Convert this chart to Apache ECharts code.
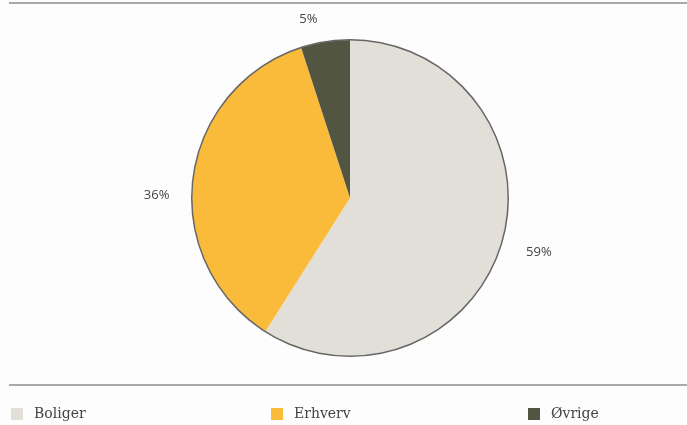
<!DOCTYPE html>
<html>
<head>
<meta charset="utf-8">
<script src="https://cdn.jsdelivr.net/npm/echarts@6/dist/echarts.min.js"></script>
<style>
  html, body { margin: 0; padding: 0; background: #fdfdfd; }
  #chart { width: 687px; height: 425px; }
</style>
</head>
<body>
<div id="chart"></div>
<script>
// Andel fordelt på kategori (prosent)
const categories = ['Boliger', 'Erhverv', 'Øvrige'];
const shares = [59, 36, 5];
const colors = ['#e2dfd8', '#fbbb3a', '#535543'];

// small nudges of the percentage labels
const labelShift = [[-4, 5], [5, 19], [6, -5]];

const chart = echarts.init(document.getElementById('chart'));

const pieData = categories.map((name, i) => ({
  name: name,
  value: shares[i],
  itemStyle: { color: colors[i] }
}));

const legendLeft = [6, 266, 523];

chart.setOption({
  backgroundColor: '#fdfdfd',
  animation: false,
  legend: categories.map((name, i) => ({
    data: [name],
    left: legendLeft[i],
    top: 402,
    icon: 'rect',
    itemWidth: 12,
    itemHeight: 12,
    itemGap: 8,
    textStyle: {
      fontFamily: 'DejaVu Serif, serif',
      fontSize: 14,
      color: '#444',
      padding: [0, 0, 0, 6]
    }
  })),
  graphic: [
    { type: 'line', shape: { x1: 9, y1: 3, x2: 687, y2: 3 }, style: { stroke: '#a9a9a9', lineWidth: 2 } },
    { type: 'line', shape: { x1: 9, y1: 385, x2: 687, y2: 385 }, style: { stroke: '#a9a9a9', lineWidth: 2 } }
  ],
  series: [
    {
      type: 'pie',
      center: [350, 198],
      radius: [0, 158],
      startAngle: 90,
      clockwise: true,
      data: pieData,
      label: {
        show: true,
        position: 'outside',
        formatter: '{c}%',
        fontFamily: 'Open Sans, sans-serif',
        fontSize: 13,
        color: '#444'
      },
      labelLine: { show: false, length: 18, length2: 6 },
      labelLayout: function (p) {
        const s = labelShift[p.dataIndex];
        return { dx: s[0], dy: s[1] };
      },
      emphasis: { disabled: true }
    },
    {
      // thin outline ring around the pie
      type: 'pie',
      center: [350, 198],
      radius: [157.5, 159],
      silent: true,
      data: [{ value: 1, itemStyle: { color: '#666' } }],
      label: { show: false },
      labelLine: { show: false }
    }
  ]
});
</script>
</body>
</html>
